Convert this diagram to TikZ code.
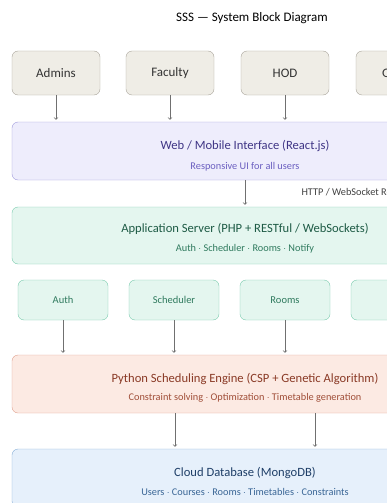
\documentclass[tikz,border=0pt]{standalone}
\usepackage{fontspec}
\setmainfont{Carlito}
\usetikzlibrary{positioning}
\definecolor{userfill}{HTML}{EFEDE6}
\definecolor{userline}{HTML}{A8A49A}
\definecolor{webfill}{HTML}{EEEDFC}
\definecolor{webline}{HTML}{9E98DA}
\definecolor{webtext}{HTML}{3F3585}
\definecolor{websub}{HTML}{6B5FC0}
\definecolor{appfill}{HTML}{E4F6EF}
\definecolor{appline}{HTML}{7ACBAE}
\definecolor{apptext}{HTML}{1E5B45}
\definecolor{appsub}{HTML}{2F7A5E}
\definecolor{engfill}{HTML}{FCEAE3}
\definecolor{engline}{HTML}{DFA08E}
\definecolor{engtext}{HTML}{8A3A26}
\definecolor{engsub}{HTML}{A04E38}
\definecolor{dbfill}{HTML}{E6F0FB}
\definecolor{dbline}{HTML}{86AED6}
\definecolor{dbtext}{HTML}{1F3F68}
\definecolor{dbsub}{HTML}{3A6696}
\definecolor{arrowgray}{HTML}{707070}

\begin{document}
\begin{tikzpicture}[x=1pt,y=-1pt,
    userbox/.style={draw=userline,fill=userfill,rounded corners=6pt,minimum width=88pt,minimum height=44pt,font=\fontsize{13}{15}\selectfont,text=black!80},
    modbox/.style={draw=appline,fill=appfill,rounded corners=6pt,minimum width=90pt,minimum height=40pt,font=\fontsize{10.5}{12}\selectfont,text=appsub},
    layer/.style={rounded corners=6pt,minimum width=466pt,minimum height=58pt},
    ttl/.style={font=\fontsize{12.6}{14}\selectfont},
    sub/.style={font=\fontsize{10.3}{12}\selectfont},
    arr/.style={draw=arrowgray,line width=0.7pt,->,shorten >=2pt}]
  \useasboundingbox (0,0) rectangle (386,503);

  \node (title) at (252,18) [font=\fontsize{13}{15}\selectfont]{SSS --- System Block Diagram};

  % users
  \node (admins) at (56,73) [userbox]{Admins};
  \node (faculty) at (170,73) [userbox]{Faculty};
  \node (hod) at (285,73) [userbox]{HOD};
  \node (guests) at (400,73) [userbox]{Guests};

  % web layer
  \node (web) at (245,151) [layer,draw=webline,fill=webfill]{};
  \node (webT) at (245,146) [ttl,text=webtext]{Web / Mobile Interface (React.js)};
  \node (webS) at (245,167) [sub,text=websub]{Responsive UI for all users};

  % application server
  \node (app) at (245,235.5) [layer,minimum height=57pt,draw=appline,fill=appfill]{};
  \node (appT) at (245,229) [ttl,text=apptext]{Application Server (PHP + RESTful / WebSockets)};
  \node (appS) at (245,249) [sub,text=appsub]{Auth $\cdot$ Scheduler $\cdot$ Rooms $\cdot$ Notify};
  \node (proto) at (298,193) [anchor=west,font=\fontsize{10.3}{12}\selectfont,text=black!75]{HTTP / WebSocket Requests};

  % modules
  \node (auth) at (63,300) [modbox]{Auth};
  \node (sched) at (174,300) [modbox]{Scheduler};
  \node (rooms) at (285,300) [modbox]{Rooms};
  \node (notify) at (396,300) [modbox]{};

  % engine
  \node (eng) at (245,384) [layer,draw=engline,fill=engfill]{};
  \node (engT) at (245,379) [ttl,text=engtext]{Python Scheduling Engine (CSP + Genetic Algorithm)};
  \node (engS) at (245,398) [sub,text=engsub]{Constraint solving $\cdot$ Optimization $\cdot$ Timetable generation};

  % database
  \node (db) at (245,478) [layer,draw=dbline,fill=dbfill]{};
  \node (dbT) at (245,473) [ttl,text=dbtext]{Cloud Database (MongoDB)};
  \node (dbS) at (245,492) [sub,text=dbsub]{Users $\cdot$ Courses $\cdot$ Rooms $\cdot$ Timetables $\cdot$ Constraints};

  % connectors
  \foreach \u in {admins,faculty,hod,guests}
    \draw[arr] (\u.south) -- (\u.south |- web.north);
  \draw[arr] (web.south) -- (app.north);
  \foreach \m in {auth,sched,rooms}
    \draw[arr] (\m.south) -- (\m.south |- eng.north);
  \draw[arr] ([xshift=-70pt]eng.south) -- ([xshift=-70pt]db.north);
  \draw[arr] ([xshift=70pt]eng.south) -- ([xshift=70pt]db.north);
\end{tikzpicture}
\end{document}
